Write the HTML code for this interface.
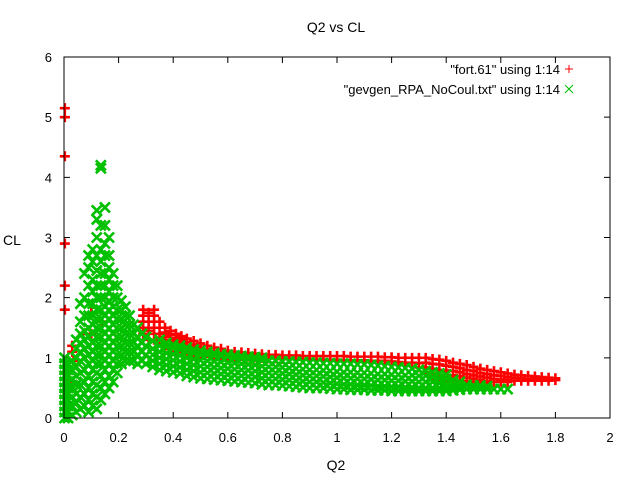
<!DOCTYPE html>
<html><head><meta charset="utf-8"><style>
body{margin:0;background:#fff}
svg{display:block;font-family:"Liberation Sans",sans-serif}
</style></head><body>
<svg width="640" height="480" viewBox="0 0 640 480">
<rect width="640" height="480" fill="#fff"/>
<text x="336" y="32" text-anchor="middle" font-size="14">Q2 vs CL</text>
<text x="336" y="470" text-anchor="middle" font-size="14">Q2</text>
<text x="12" y="245" text-anchor="middle" font-size="14">CL</text>
<g id="ticks"></g>
<g id="marks"></g>
<rect x="64" y="57" width="546" height="361" fill="none" stroke="#000" stroke-width="1"/>
<g>
<text x="560" y="74" text-anchor="end" font-size="13">"fort.61" using 1:14</text>
<path d="M565,69h8M569,65v8" stroke="#f00" stroke-width="1"/>
<text x="560" y="94" text-anchor="end" font-size="13">"gevgen_RPA_NoCoul.txt" using 1:14</text>
<path d="M565,85l8,8M573,85l-8,8" stroke="#00c000" stroke-width="1"/>
</g>
</svg>
<script>
const xTicks=[0,0.2,0.4,0.6,0.8,1,1.2,1.4,1.6,1.8,2];
const xTickLabels=["0","0.2","0.4","0.6","0.8","1","1.2","1.4","1.6","1.8","2"];
const yTicks=[0,1,2,3,4,5,6];
const yTickLabels=["0","1","2","3","4","5","6"];
const redPts=[[0.003,5.15],[0.003,5.0],[0.003,4.35],[0.003,2.9],[0.003,2.2],[0.003,1.8],[0.03,1.2],[0.03,1.1],[0.035,0.95],[0.03,0.6],[0.07,1.4],[0.1,1.75],[0.1,1.4],[0.14,1.6]];
const redCols=[[0.29,1.8,1.7,1.6,1.5,1.4],[0.31,1.75,1.6,1.45,1.3],[0.33,1.8,1.7,1.6,1.5,1.4,1.3],[0.35,1.6,1.5,1.4,1.3],[0.37,1.5,1.42,1.35,1.28,1.2],[0.39,1.45,1.38,1.3,1.22,1.15],[0.41,1.4,1.33,1.26,1.18,1.1],[0.43,1.36,1.29,1.22,1.15],[0.45,1.32,1.26,1.19,1.12],[0.475,1.28,1.22,1.15,1.08],[0.5,1.24,1.18,1.12,1.06],[0.525,1.2,1.14,1.08],[0.55,1.17,1.11,1.05],[0.575,1.15,1.09,1.03],[0.6,1.12,1.07,1.02],[0.625,1.1,1.05,1.0],[0.65,1.09,1.03],[0.675,1.08,1.02],[0.7,1.07,1.01],[0.725,1.06,1.0],[0.75,1.05,0.99],[0.775,1.05,0.99],[0.8,1.04,0.98],[0.825,1.04,0.98],[0.85,1.04,0.98],[0.875,1.03,0.97],[0.9,1.03,0.97],[0.925,1.03,0.97],[0.95,1.03,0.97],[0.975,1.03,0.97],[1.0,1.03,0.97],[1.025,1.03,0.96],[1.05,1.02,0.96],[1.075,1.02,0.96],[1.1,1.02,0.96],[1.125,1.02,0.95],[1.15,1.02,0.95],[1.175,1.01,0.95],[1.2,1.01,0.94],[1.225,1.0,0.93],[1.25,1.0,0.92],[1.275,1.0,0.92],[1.3,1.0,0.91,0.84],[1.325,1.0,0.92,0.84,0.76],[1.35,0.98,0.9,0.82,0.74,0.66],[1.375,0.97,0.89,0.8,0.72,0.64],[1.4,0.95,0.87,0.79,0.71,0.64],[1.425,0.92,0.85,0.78,0.71,0.64],[1.45,0.9,0.83,0.76,0.69,0.62],[1.475,0.88,0.8,0.73,0.67,0.61],[1.5,0.85,0.78,0.71,0.65,0.6],[1.525,0.82,0.75,0.69,0.63,0.59],[1.55,0.8,0.73,0.67,0.61,0.58],[1.575,0.78,0.71,0.65,0.6],[1.6,0.76,0.7,0.64,0.6],[1.625,0.74,0.68,0.63,0.6],[1.65,0.72,0.67,0.62],[1.675,0.71,0.66,0.62],[1.7,0.7,0.65,0.62],[1.725,0.69,0.65,0.62],[1.75,0.68,0.64,0.62],[1.775,0.67,0.64,0.62],[1.8,0.66,0.63]];
const greenCols=[[0.002,0,0.1,0.2,0.3,0.4,0.5,0.6,0.7,0.8,0.9,1.0],[0.015,0,0.1,0.2,0.3,0.4,0.5,0.6,0.7,0.8,0.9],[0.03,0.05,0.2,0.35,0.5,0.65,0.8,0.95],[0.045,0.1,0.25,0.4,0.55,0.7,0.85,1.0,1.15,1.3],[0.06,0.15,0.35,0.55,0.75,0.95,1.1,1.25,1.4,1.6,1.9],[0.075,0.2,0.4,0.6,0.8,1.0,1.15,1.3,1.45,1.7,2.0,2.4],[0.09,0.1,0.3,0.5,0.7,0.9,1.05,1.2,1.35,1.5,1.7,1.9,2.2,2.5,2.7],[0.105,0.2,0.4,0.6,0.8,0.95,1.1,1.25,1.4,1.55,1.7,1.9,2.1,2.3,2.6,2.8],[0.12,0.15,0.35,0.55,0.75,0.9,1.05,1.2,1.35,1.5,1.65,1.8,2.0,2.2,2.45,2.7,3.0,3.3,3.45],[0.135,0.3,0.5,0.7,0.9,1.05,1.2,1.35,1.5,1.65,1.8,2.0,2.2,2.4,2.6,2.8,3.2,4.15,4.2],[0.15,0.4,0.6,0.8,0.95,1.1,1.25,1.4,1.55,1.7,1.85,2.0,2.2,2.4,2.7,2.9,3.2,3.5],[0.165,0.5,0.7,0.9,1.05,1.2,1.35,1.5,1.65,1.8,1.95,2.1,2.3,2.5,2.7,3.0],[0.18,0.6,0.8,0.95,1.1,1.25,1.4,1.55,1.7,1.85,2.0,2.2,2.4],[0.195,0.75,0.9,1.05,1.2,1.35,1.5,1.65,1.8,2.0,2.2],[0.21,0.9,1.05,1.2,1.35,1.5,1.65,1.8,1.95],[0.225,0.95,1.1,1.25,1.4,1.55,1.7,1.85],[0.24,0.95,1.1,1.25,1.4,1.55,1.7],[0.255,0.95,1.1,1.25,1.4,1.55],[0.27,0.9,1.05,1.2,1.35,1.5],[0.285,0.95,1.1,1.25,1.4],[0.3,0.9,1.05,1.2,1.35],[0.325,0.85,0.95,1.05,1.15,1.28],[0.35,0.8,0.9,1.0,1.1,1.2,1.3],[0.375,0.78,0.88,0.98,1.08,1.18,1.25],[0.4,0.76,0.86,0.96,1.06,1.16,1.22],[0.425,0.74,0.84,0.94,1.04,1.14,1.2],[0.45,0.7,0.8,0.9,1.0,1.1,1.17],[0.475,0.68,0.78,0.88,0.98,1.08,1.14],[0.5,0.66,0.76,0.86,0.96,1.05,1.12],[0.525,0.65,0.75,0.85,0.95,1.05,1.1],[0.55,0.64,0.74,0.84,0.94,1.04,1.08],[0.575,0.63,0.73,0.83,0.93,1.03,1.06],[0.6,0.62,0.72,0.82,0.92,1.02,1.05],[0.625,0.61,0.71,0.81,0.91,1.0,1.04],[0.65,0.6,0.7,0.8,0.9,0.99,1.03],[0.675,0.59,0.69,0.79,0.89,0.98,1.02],[0.7,0.58,0.68,0.78,0.88,0.97,1.01],[0.725,0.56,0.66,0.76,0.86,0.96,1.0],[0.75,0.55,0.65,0.75,0.85,0.95],[0.775,0.55,0.65,0.75,0.85,0.95],[0.8,0.54,0.64,0.74,0.84,0.94],[0.825,0.53,0.63,0.73,0.83,0.94],[0.85,0.52,0.62,0.72,0.82,0.93],[0.875,0.51,0.61,0.71,0.81,0.93],[0.9,0.5,0.6,0.7,0.8,0.92],[0.925,0.5,0.6,0.7,0.8,0.92],[0.95,0.5,0.59,0.69,0.79,0.91],[0.975,0.49,0.58,0.68,0.78,0.91],[1.0,0.48,0.57,0.67,0.77,0.9],[1.025,0.48,0.56,0.66,0.76,0.9],[1.05,0.47,0.56,0.66,0.76,0.9],[1.075,0.47,0.55,0.65,0.75,0.89],[1.1,0.47,0.55,0.65,0.75,0.89],[1.125,0.46,0.54,0.64,0.74,0.88],[1.15,0.46,0.53,0.63,0.73,0.87],[1.175,0.46,0.53,0.63,0.73,0.86],[1.2,0.45,0.52,0.62,0.72,0.85],[1.225,0.45,0.52,0.62,0.72,0.84],[1.25,0.45,0.51,0.61,0.71,0.83],[1.275,0.45,0.51,0.61,0.71,0.82],[1.3,0.45,0.5,0.6,0.7,0.8],[1.325,0.45,0.5,0.6,0.7,0.78],[1.35,0.45,0.5,0.6,0.68,0.76],[1.375,0.45,0.5,0.58,0.66,0.74],[1.4,0.45,0.5,0.57,0.65,0.72],[1.425,0.46,0.5,0.56,0.63],[1.45,0.47,0.53,0.6],[1.475,0.48,0.55],[1.5,0.48,0.54],[1.525,0.48,0.54],[1.55,0.48,0.53],[1.575,0.48],[1.6,0.48],[1.625,0.48]];

const NS="http://www.w3.org/2000/svg";
const X0=64,X1=610,Y0=418,Y1=57;
function xs(v){return X0+(v-0)/(2-0)*(X1-X0);}
function ys(v){return Y0-(v-0)/(6-0)*(Y0-Y1);}
const tg=document.getElementById('ticks');
xTicks.forEach((t,i)=>{
  const p=document.createElementNS(NS,'path');
  const x=xs(t);
  p.setAttribute('d',`M${x},${Y0}v-6M${x},${Y1}v6`);
  p.setAttribute('stroke','#000');
  
  
  tg.appendChild(p);
  const tx=document.createElementNS(NS,'text');
  tx.setAttribute('x',x);tx.setAttribute('y',Y0+24);
  tx.setAttribute('text-anchor','middle');tx.setAttribute('font-size','13');
  tx.textContent=xTickLabels[i];
  
  
  tg.appendChild(tx);
});
yTicks.forEach((t,i)=>{
  const p=document.createElementNS(NS,'path');
  const y=ys(t);
  p.setAttribute('d',`M${X0},${y}h6M${X1},${y}h-6`);
  p.setAttribute('stroke','#000');
  
  
  tg.appendChild(p);
  const tx=document.createElementNS(NS,'text');
  tx.setAttribute('x',X0-12);tx.setAttribute('y',y+5);
  tx.setAttribute('text-anchor','end');tx.setAttribute('font-size','13');
  tx.textContent=yTickLabels[i];
  
  
  tg.appendChild(tx);
});
const mg=document.getElementById('marks');
let redD='',greenD='';
function plus(x,y){const a=xs(x),b=ys(y);return `M${a-5},${b}h10M${a},${b-5}v10`;}
function cross(x,y){const a=xs(x),b=ys(y);return `M${a-5},${b-5}l10,10M${a+5},${b-5}l-10,10`;}
redPts.forEach(p=>{redD+=plus(p[0],p[1]);});
redCols.forEach(c=>{for(let k=1;k<c.length;k++)redD+=plus(c[0],c[k]);});
greenCols.forEach(c=>{for(let k=1;k<c.length;k++)greenD+=cross(c[0],c[k]);});
const rp=document.createElementNS(NS,'path');
rp.setAttribute('d',redD);rp.setAttribute('stroke','#f00');rp.setAttribute('stroke-width','2.6');rp.setAttribute('fill','none');


mg.appendChild(rp);
const gp=document.createElementNS(NS,'path');
gp.setAttribute('d',greenD);gp.setAttribute('stroke','#00c000');gp.setAttribute('stroke-width','2.6');gp.setAttribute('fill','none');


mg.appendChild(gp);
</script>
</body></html>
